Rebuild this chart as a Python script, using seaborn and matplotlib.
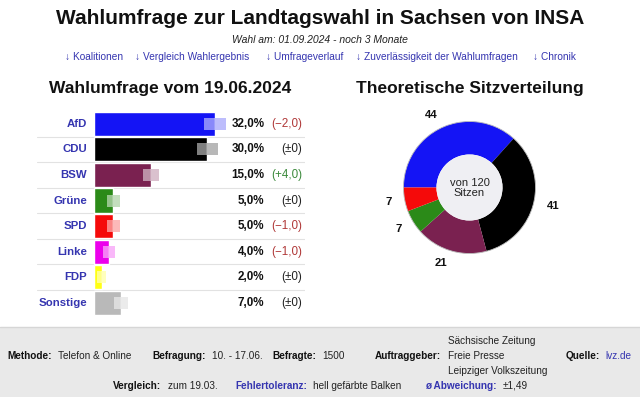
import matplotlib
matplotlib.use("Agg")
import matplotlib.pyplot as plt
import seaborn as sns
from matplotlib.patches import Rectangle, Circle
from matplotlib.lines import Line2D

# Daten
parteien = ["AfD", "CDU", "BSW", "Grüne", "SPD", "Linke", "FDP", "Sonstige"]
werte = [32.0, 30.0, 15.0, 5.0, 5.0, 4.0, 2.0, 7.0]
fehler = [2.9, 2.8, 2.2, 1.7, 1.7, 1.6, 1.2, 1.85]
aenderung = [-2.0, 0.0, 4.0, 0.0, -1.0, -1.0, 0.0, 0.0]
farben = ["#1414f5", "#000000", "#7a2150", "#2b8a18", "#f50a0a", "#ec00ec", "#ffff14", "#b9b9b9"]

sitz_parteien = ["AfD", "CDU", "BSW", "Grüne", "SPD"]
sitze = [44, 41, 21, 7, 7]

links = ["↓ Koalitionen", "↓ Vergleich Wahlergebnis", "↓ Umfrageverlauf",
         "↓ Zuverlässigkeit der Wahlumfragen", "↓ Chronik"]
link_x = [65, 135, 266, 356, 533]

# Stil
sns.set_theme(style="white")
plt.rcParams["font.family"] = ["Liberation Sans", "DejaVu Sans"]

W, H = 640, 397
fig = plt.figure(figsize=(6.4, 3.97), dpi=100)
fig.patch.set_facecolor("white")
blau = "#3535b0"


def ftext(x, y, s, **kw):
    kw.setdefault("va", "center")
    return fig.text(x / W, 1 - y / H, s, **kw)


# Kopf
ftext(320, 19, "Wahlumfrage zur Landtagswahl in Sachsen von INSA", ha="center",
      fontsize=15, fontweight="bold", color="#111111")
ftext(320, 40, "Wahl am: 01.09.2024 - noch 3 Monate", ha="center",
      fontsize=7.5, style="italic", color="#222222")
for x, s in zip(link_x, links):
    ftext(x, 57, s, ha="left", fontsize=7.3, color=blau)

ftext(170, 88, "Wahlumfrage vom 19.06.2024", ha="center", fontsize=12.5,
      fontweight="bold", color="#111111")
ftext(469.5, 88, "Theoretische Sitzverteilung", ha="center", fontsize=12.5,
      fontweight="bold", color="#111111")

# Balken
x0, x1 = 37, 305
y0, y1 = 111, 315.6
skala = 3.77
ax = fig.add_axes([x0 / W, 1 - y1 / H, (x1 - x0) / W, (y1 - y0) / H])
sns.barplot(x=werte, y=parteien, hue=parteien, palette=farben, legend=False,
            width=0.94, orient="h", saturation=1, ax=ax)
ax.set_xlim(-(94.3 - x0) / skala, (x1 - 94.3) / skala)
ax.set_ylim(len(parteien) - 0.5, -0.5)
ax.axis("off")

for i in range(len(parteien) - 1):
    ax.axhline(i + 0.5, color="#e2e2e2", lw=0.8, zorder=0)

for i, (p, v, e, d, c) in enumerate(zip(parteien, werte, fehler, aenderung, farben)):
    # Fehlertoleranz: hell gefärbte Balken
    ax.barh(i, e, left=v - e, height=0.47, color="white", alpha=0.5, lw=0, zorder=3)
    ax.barh(i, e, left=v, height=0.47, color=c, alpha=0.28, lw=0, zorder=3)
    ax.text(-1.86, i, p, ha="right", va="center", fontsize=8.2,
            fontweight="bold", color=blau)
    ax.text(45.1, i, f"{v:.1f}%".replace(".", ","), ha="right", va="center",
            fontsize=8.4, fontweight="bold", color="#111111")
    if d > 0:
        s, col = f"(+{d:.1f})".replace(".", ","), "#3c8a3c"
    elif d < 0:
        s, col = f"(−{-d:.1f})".replace(".", ","), "#b03838"
    else:
        s, col = "(±0)", "#222222"
    ax.text(55.2, i, s, ha="right", va="center", fontsize=8.4, color=col)

# Sitzverteilung
r_px = 66
cx, cy = 469.5, 187.5
ax2 = fig.add_axes([(cx - 1.5 * r_px) / W, 1 - (cy + 1.5 * r_px) / H,
                    3 * r_px / W, 3 * r_px / H])
ax2.pie(sitze, colors=farben[:5], startangle=180, counterclock=False, radius=1,
        labels=[str(s) for s in sitze], labeldistance=1.2,
        wedgeprops=dict(width=0.5, edgecolor="none"),
        textprops=dict(fontsize=8.2, fontweight="bold", color="#111111"))
ax2.add_patch(Circle((0, 0), 0.5, facecolor="#efeff3", edgecolor="none"))
ax2.add_patch(Circle((0, 0), 1.0, facecolor="none", edgecolor="#bbbbbb", lw=0.6))
ax2.text(0, 0, "von 120\nSitzen", ha="center", va="center", fontsize=8,
         color="#222222", linespacing=1.0)
ax2.set_xlim(-1.5, 1.5)
ax2.set_ylim(-1.5, 1.5)
ax2.set_aspect("equal")
ax2.axis("off")

# Fußzeile
fig.patches.append(Rectangle((0, 0), 1, 70 / H, transform=fig.transFigure,
                             facecolor="#e9e9e9", edgecolor="none", zorder=0))
fig.lines.append(Line2D([0, 1], [70 / H, 70 / H], transform=fig.transFigure,
                        color="#d6d6d6", lw=1))

renderer = fig.canvas.get_renderer()
fs = 7.2


def paar(x, y, label, wert, lcol="#111111", vcol="#222222", luecke=6.5):
    t = ftext(x, y, label, ha="left", fontsize=fs, fontweight="bold", color=lcol)
    ende = t.get_window_extent(renderer).x1
    if wert:
        ftext(ende + luecke, y, wert, ha="left", fontsize=fs, color=vcol)
    return ende


paar(7, 356, "Methode:", "Telefon & Online")
paar(152, 356, "Befragung:", "10. - 17.06.")
paar(272, 356, "Befragte:", "1500")
ende = paar(375, 356, "Auftraggeber:", "")
for yy, s in zip([341, 356, 371], ["Sächsische Zeitung", "Freie Presse", "Leipziger Volkszeitung"]):
    ftext(ende + 6.5, yy, s, ha="left", fontsize=fs, color="#222222")
paar(566, 356, "Quelle:", "lvz.de", vcol=blau, luecke=5)

paar(113, 386, "Vergleich:", "zum 19.03.")
paar(235, 386, "Fehlertoleranz:", "hell gefärbte Balken", lcol=blau)
paar(425, 386, "ø Abweichung:", "±1,49", lcol=blau)

fig.savefig("out.png", dpi=100)
